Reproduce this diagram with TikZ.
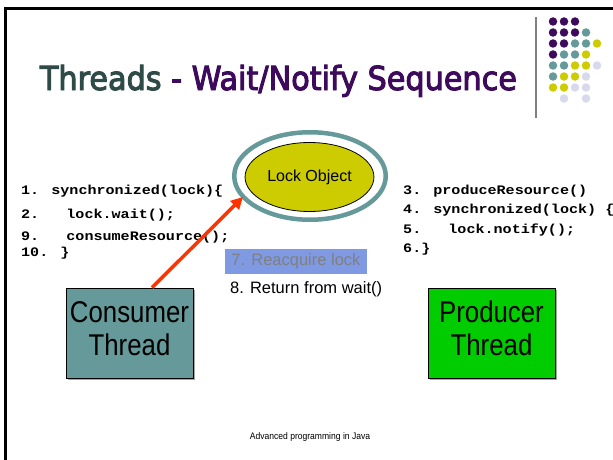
\documentclass[tikz,border=0pt]{standalone}
\usepackage{fontspec}
\setmainfont{Liberation Sans}
\newfontfamily\titlefont[FakeStretch=1.02,FakeBold=3]{DejaVu Sans Condensed}
\newfontfamily\codefont[FakeStretch=1.16]{Liberation Mono}
\newfontfamily\narrowfont[FakeStretch=0.9]{Liberation Sans}
\newfontfamily\boxfont[FakeStretch=0.86]{Liberation Sans}
\usetikzlibrary{arrows.meta,shapes.geometric,shadows}

\definecolor{slate}{HTML}{2E4B48}
\definecolor{plum}{HTML}{3D0A5C}
\definecolor{teal}{HTML}{669999}
\definecolor{olive}{HTML}{CCCC00}
\definecolor{lavender}{HTML}{D9D9EE}
\definecolor{leaf}{HTML}{00CC00}
\definecolor{reacqblue}{HTML}{7F99E3}
\definecolor{arrowred}{HTML}{FF3300}

\tikzset{
  code/.style={anchor=base west, inner sep=0pt,
    font=\codefont\bfseries\fontsize{13}{15}\selectfont},
  threadbox/.style={draw=black, line width=0.8pt, minimum width=127pt,
    minimum height=90pt, inner sep=0pt,
    drop shadow={shadow xshift=1.5pt, shadow yshift=-1.5pt, fill=black!35, opacity=1}},
  threadtext/.style={anchor=base, inner sep=0pt,
    font=\boxfont\fontsize{30}{33}\selectfont},
  dot/.style={circle, inner sep=0pt, minimum size=8.5pt},
  arrowline/.style={draw=arrowred, line width=3.5pt,
    -{Triangle[length=12pt,width=12pt]}},
}

\begin{document}
\begin{tikzpicture}[x=1pt,y=-1pt]
\useasboundingbox (0,0) rectangle (613,460);
\fill[white] (0,0) rectangle (613,460);

% slide frame (left and top edges)
\draw[line width=3pt] (5.5,460) -- (5.5,8.5) -- (613,8.5);

% title
\node[anchor=base, inner sep=0pt, font=\titlefont\fontsize{33}{38}\selectfont]
  (title) at (278.5,90)
  {\textcolor{slate}{Threads} \textcolor{plum}{- Wait/Notify Sequence}};

% decorative separator and dot grid
\draw[gray, line width=1.5pt] (536,17) -- (536,118);
\foreach \c/\r/\col in {
  1/1/plum,2/1/plum,3/1/plum,
  1/2/plum,2/2/plum,3/2/plum,4/2/teal,
  1/3/plum,2/3/plum,3/3/teal,4/3/teal,5/3/olive,
  1/4/plum,2/4/teal,3/4/teal,4/4/olive,
  1/5/teal,2/5/teal,3/5/olive,4/5/olive,5/5/lavender,
  1/6/teal,2/6/olive,3/6/olive,4/6/lavender,
  1/7/olive,2/7/olive,3/7/lavender,4/7/lavender,
  2/8/lavender,4/8/lavender}
  \node[dot, fill=\col] at ({542+11*\c},{10.5+11*\r}) {};

% lock object
\node[ellipse, draw=teal, line width=4.5pt, fill=white,
  minimum width=151.5pt, minimum height=87.5pt] (lockring) at (310,176) {};
\node[ellipse, draw=black, line width=0.8pt, fill=olive,
  minimum width=123pt, minimum height=69pt,
  font=\fontsize{16}{19}\selectfont] (lock) at (309.5,177) {Lock Object};

% consumer code
\node[code] (c1) at (21,194) {1. synchronized(lock)\{};
\node[code] (c2) at (21,218) {2.\ \ \ lock.wait();};
\node[code] (c9) at (21,240) {9.\ \ \ consumeResource();};
\node[code] (c10) at (21,256) {10. \}};

% producer code
\node[code] (p3) at (403,194) {3. produceResource()};
\node[code] (p4) at (403,213) {4. synchronized(lock) \{};
\node[code] (p5) at (403,233) {5.\ \ \ lock.notify();};
\node[code] (p6) at (403,252) {6.\}};

% wait steps
\node[fill=reacqblue, minimum width=142pt, minimum height=25pt, inner sep=0pt,
  text=black!50, font=\fontsize{16.5}{19}\selectfont]
  (reacq) at (296,261.5) {7. Reacquire lock};
\node[anchor=base west, inner sep=0pt, font=\fontsize{16.5}{19}\selectfont]
  (ret) at (230,293) {8. Return from wait()};

% threads
\node[threadbox, fill=teal] (consumer) at (129.5,333) {};
\node[threadtext] (consumer1) at (129.5,322) {Consumer};
\node[threadtext] (consumer2) at (129.5,355) {Thread};

\node[threadbox, fill=leaf] (producer) at (491.5,333) {};
\node[threadtext] (producer1) at (491.5,322) {Producer};
\node[threadtext] (producer2) at (491.5,355) {Thread};

% consumer reaching for the lock
\coordinate (ringhit) at (243,197);
\draw[arrowline] ([xshift=22.5pt]consumer.north) -- (ringhit);

% footer
\node[font=\narrowfont\fontsize{9.5}{11}\selectfont] (footer) at (310,437)
  {Advanced programming in Java};
\end{tikzpicture}
\end{document}
